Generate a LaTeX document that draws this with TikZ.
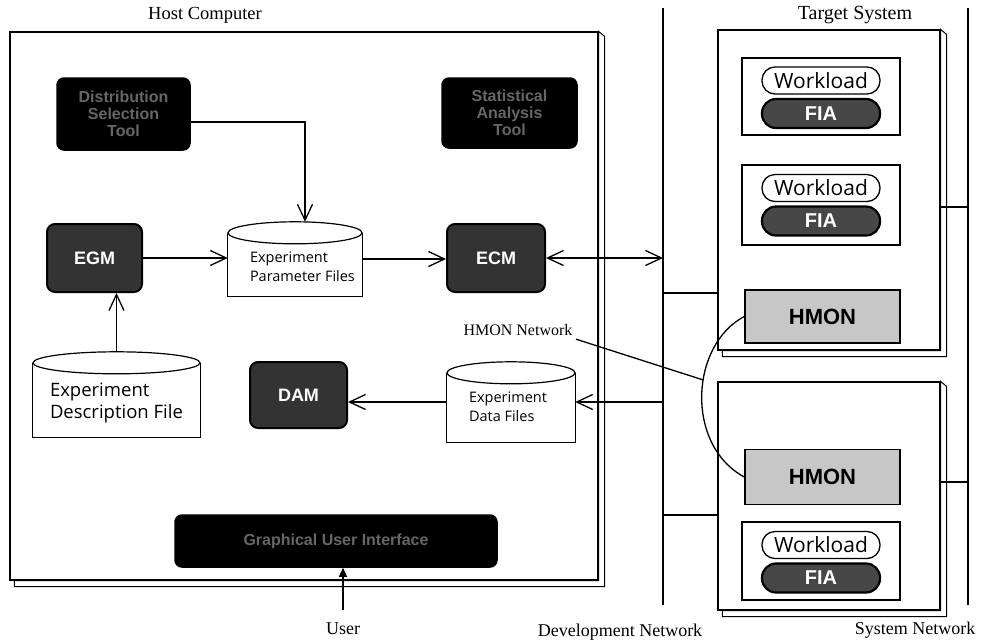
\documentclass[tikz,border=0pt]{standalone}
\usepackage{fontspec}
\setmainfont{Liberation Serif}
\newfontfamily\labelfont{Open Sans}
\newfontfamily\tagfont{Liberation Sans}
\usetikzlibrary{arrows.meta}

\begin{document}
\begin{tikzpicture}[x=1pt,y=-1pt,
  title/.style={font=\fontsize{18}{20}\selectfont},
  heavy/.style={line width=1.3pt},
  net/.style={line width=2pt},
  slab/.style={line width=1pt, fill=white},
  frame/.style={draw=black, line width=1.2pt, fill=white, inner sep=0pt},
  darkbox/.style={draw=black, fill=black, line width=1.5pt, rounded corners=7pt,
    text=black!60, font=\tagfont\fontsize{16}{17}\selectfont\bfseries, align=center, inner sep=0pt},
  modbox/.style={draw=black, fill=black!80, line width=2pt, rounded corners=8pt,
    text=white, font=\tagfont\fontsize{18}{19}\selectfont\bfseries, inner sep=0pt},
  monbox/.style={draw=black, fill=black!22, line width=1.4pt,
    text=black, font=\tagfont\fontsize{22}{23}\selectfont\bfseries, inner sep=0pt},
  cylbody/.style={draw=none, inner sep=0pt},
  cyl/.style={draw=black, line width=1.2pt, fill=white},
  cyltext/.style={anchor=north west, align=left, inner sep=0pt,
    font=\labelfont\fontsize{14.5}{19}\selectfont},
  wlpill/.style={draw=black, line width=1.3pt, rounded corners=13pt, fill=white,
    font=\labelfont\fontsize{21}{22}\selectfont, inner sep=0pt},
  fiapill/.style={draw=black, line width=2.2pt, rounded corners=14pt, fill=black!72,
    text=white, font=\tagfont\fontsize{20}{21}\selectfont\bfseries, inner sep=0pt},
  openarrow/.style={-{Straight Barb[length=16pt,width=15pt]}, heavy},
  twoarrow/.style={{Straight Barb[length=16pt,width=15pt]}-{Straight Barb[length=16pt,width=15pt]}, heavy},
]
\useasboundingbox (0,0) rectangle (991,641);

% ---------------- host computer ----------------
\node[title, font=\fontsize{18.5}{20}\selectfont] (hosttitle) at (205,15) {Host Computer};
\node[frame, minimum width=588pt, minimum height=548pt] (host) at (304,306) {};
\draw[slab] ([xshift=5pt]host.south west) -- ([xshift=5pt,yshift=-6pt]host.south west)
  -- ([xshift=6pt,yshift=-6pt]host.south east) -- ([xshift=6pt,yshift=-5pt]host.north east)
  -- (host.north east) -- (host.south east) -- cycle;

\node[darkbox, minimum width=133pt, minimum height=72pt] (dist) at (123.5,114)
  {Distribution\\Selection\\Tool};
\node[darkbox, minimum width=135pt, minimum height=70pt] (stat) at (509.5,113)
  {Statistical\\Analysis\\Tool};

\node[modbox, minimum width=95pt, minimum height=68pt] (egm) at (94.5,258) {EGM};
\node[modbox, minimum width=98pt, minimum height=68pt] (ecm) at (496,258) {ECM};
\node[modbox, minimum width=97pt, minimum height=66pt] (dam) at (298.5,395) {DAM};

% file stores
\node[cylbody, minimum width=134pt, minimum height=74pt] (epf) at (295,259) {};
\node[cylbody, minimum width=167pt, minimum height=85pt] (edesc) at (116.5,394.5) {};
\node[cylbody, minimum width=128pt, minimum height=80pt] (edf) at (511,402) {};
\foreach \c/\r in {epf/67, edesc/83.5, edf/64} {
  \draw[cyl] ([yshift=-11pt]\c.north west) -- (\c.south west) -- (\c.south east)
    -- ([yshift=-11pt]\c.north east);
  \draw[cyl] ([yshift=-11pt]\c.north) ellipse [x radius=\r pt, y radius=11pt];
}
\node[cyltext] (epft) at ([xshift=22pt,yshift=-30pt]epf.north west) {Experiment\\Parameter Files};
\node[cyltext, font=\labelfont\fontsize{18.5}{22}\selectfont] (edesct)
  at ([xshift=17pt,yshift=-31pt]edesc.north west) {Experiment\\Description File};
\node[cyltext] (edft) at ([xshift=22pt,yshift=-30pt]edf.north west) {Experiment\\Data Files};

\node[darkbox, minimum width=322pt, minimum height=52pt] (gui) at (336,541) {Graphical User Interface};

% ---------------- networks ----------------
\coordinate (devtop) at (663,8);
\coordinate (devbot) at (663,605);
\coordinate (systop) at (968,8);
\coordinate (sysbot) at (968,605);
\draw[net] (devtop) -- (devbot);
\draw[net] (systop) -- (sysbot);
\node[title] (devlabel) at (620,632) {Development Network};
\node[title] (syslabel) at (915,630) {System Network};

% ---------------- target system ----------------
\node[title, font=\fontsize{20}{22}\selectfont] (tgttitle) at (855,15) {Target System};
\node[frame, minimum width=222pt, minimum height=320pt] (tU) at (829,190) {};
\draw[slab] ([xshift=5pt]tU.south west) -- ([xshift=5pt,yshift=-6pt]tU.south west)
  -- ([xshift=6pt,yshift=-6pt]tU.south east) -- ([xshift=6pt,yshift=-5pt]tU.north east)
  -- (tU.north east) -- (tU.south east) -- cycle;
\node[frame, minimum width=222pt, minimum height=228pt] (tL) at (829,496) {};
\draw[slab] ([xshift=5pt]tL.south west) -- ([xshift=5pt,yshift=-6pt]tL.south west)
  -- ([xshift=6pt,yshift=-6pt]tL.south east) -- ([xshift=6pt,yshift=-5pt]tL.north east)
  -- (tL.north east) -- (tL.south east) -- cycle;

\node[frame, minimum width=158pt, minimum height=77pt] (sub1) at (821,96.5) {};
\node[wlpill, minimum width=118pt, minimum height=27pt] (wl1) at (821,80.5) {Workload};
\node[fiapill, minimum width=118pt, minimum height=29pt] (fia1) at (821,113.5) {FIA};

\node[frame, minimum width=158pt, minimum height=80pt] (sub2) at (821,205) {};
\node[wlpill, minimum width=118pt, minimum height=27pt] (wl2) at (821,188) {Workload};
\node[fiapill, minimum width=118pt, minimum height=29pt] (fia2) at (821,221) {FIA};

\node[monbox, minimum width=155pt, minimum height=53pt] (hmonU) at (822.5,316.5) {HMON};
\node[monbox, minimum width=155pt, minimum height=55pt] (hmonL) at (822.5,477) {HMON};

\node[frame, minimum width=158pt, minimum height=78pt] (sub3) at (821,561) {};
\node[wlpill, minimum width=118pt, minimum height=27pt] (wl3) at (821,545) {Workload};
\node[fiapill, minimum width=118pt, minimum height=29pt] (fia3) at (821,578) {FIA};

% target links to both networks
\coordinate (jU) at (663,293);
\coordinate (jL) at (663,515);
\coordinate (kU) at (968,207);
\coordinate (kL) at (968,482);
\draw[net] (jU) -- (jU -| tU.west);
\draw[net] (jL) -- (jL -| tL.west);
\draw[net] (kU -| tU.east) -- (kU);
\draw[net] (kL -| tL.east) -- (kL);

% monitor network
\node[title, font=\fontsize{16}{18}\selectfont] (hlabel) at (518,330) {HMON Network};
\draw[heavy] (hmonU.west) .. controls (690,345) and (685,445) .. (hmonL.west)
  coordinate[pos=0.42] (hjoin);
\draw[heavy] (hlabel.south east) -- (hjoin);

% ---------------- data flow ----------------
\draw[openarrow] ([yshift=-8pt]dist.east) -| ([xshift=10pt]epf.north);
\draw[openarrow] (egm.east) -- (egm.east -| epf.west);
\draw[openarrow] (epf.east) -- (epf.east -| ecm.west);
\draw[twoarrow] (ecm.east) -- (ecm.east -| devtop);
\draw[openarrow] (edesc.north) -- (edesc.north |- egm.south);
\draw[openarrow] (edf.east -| devtop) -- (edf.east);
\draw[openarrow] (edf.west) -- (edf.west -| dam.east);

\coordinate (user) at (343,610);
\draw[heavy, -{Triangle[length=9pt,width=8pt]}] (user) -- (user |- gui.south);
\node[title] (userlabel) at (343,629) {User};
\end{tikzpicture}
\end{document}
